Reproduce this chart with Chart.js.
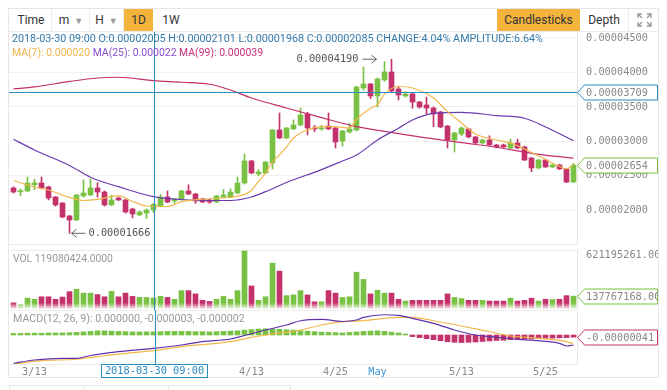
<!DOCTYPE html>
<html>
<head>
<meta charset="utf-8">
<title>Daily candles</title>
<script src="https://cdn.jsdelivr.net/npm/chart.js@4.4.1/dist/chart.umd.min.js"></script>
<style>
  body { margin: 0; background: #fff; }
  #wrap { position: relative; width: 667px; height: 390px; overflow: hidden; font-family: Roboto, "Liberation Sans", sans-serif; }
  canvas { position: absolute; left: 9px; }
  .box { position: absolute; border: 1px solid #e6e6e6; box-sizing: border-box; }
  .hl { position: absolute; height: 1px; background: #ebebeb; }
  .vl { position: absolute; width: 1px; background: #ededed; }
  .tb { position: absolute; top: 9px; height: 22px; line-height: 22px; font-size: 12px; color: #333; text-align: center; }
  .on { background: #f3b33d; }
  .caret { color: #999; font-size: 9px; margin-left: 5px; }
  .txt { position: absolute; white-space: nowrap; font-size: 11px; line-height: 13px; }
</style>
</head>
<body>
<div id="wrap">
  <div class="box" style="left:8px;top:8px;width:651px;height:370px;"></div>
  <div class="hl" style="left:9px;top:31px;width:649px;"></div>

  <!-- toolbar -->
  <div class="tb" style="left:12px;width:38px;">Time</div>
  <div class="vl" style="left:51px;top:9px;height:22px;"></div>
  <div class="tb" style="left:54px;width:34px;">m<span class="caret">&#9660;</span></div>
  <div class="vl" style="left:89px;top:9px;height:22px;"></div>
  <div class="tb" style="left:90px;width:33px;">H<span class="caret">&#9660;</span></div>
  <div class="vl" style="left:123px;top:9px;height:22px;"></div>
  <div class="tb on" style="left:124px;width:29px;">1D</div>
  <div class="tb" style="left:156px;width:30px;">1W</div>
  <div class="tb on" style="left:497px;width:83px;">Candlesticks</div>
  <div class="tb" style="left:582px;width:44px;">Depth</div>
  <div class="vl" style="left:628px;top:9px;height:22px;"></div>
  <svg style="position:absolute;left:637px;top:13px" width="15" height="14" viewBox="0 0 15 14">
    <g stroke="#999" stroke-width="1.3" fill="none">
      <path d="M1 5V1h4M1 1l4 4"/><path d="M14 5V1h-4M14 1l-4 4"/>
      <path d="M1 9v4h4M1 13l4-4"/><path d="M14 9v4h-4M14 13l-4-4"/>
    </g>
  </svg>

  <!-- panel frames -->
  <div class="hl" style="left:9px;top:244px;width:568px;"></div>
  <div class="hl" style="left:9px;top:250px;width:568px;"></div>
  <div class="hl" style="left:9px;top:310px;width:568px;"></div>
  <div class="hl" style="left:9px;top:364px;width:568px;"></div>

  <canvas id="price" width="649" height="218" style="top:31px"></canvas>
  <canvas id="vol" width="649" height="61" style="top:249px"></canvas>
  <canvas id="macd" width="649" height="68" style="top:310px"></canvas>

  <div class="txt fit" data-w="531" id="info" style="left:12px;top:32px;color:#3479a8;"></div>
  <div class="txt fit" data-w="251" id="maTxt" style="left:12px;top:46px;">
    <span style="color:#f0b44b">MA(7): 0.000020</span> <span style="color:#8a4fd0">MA(25): 0.000022</span> <span style="color:#c9307a">MA(99): 0.000039</span>
  </div>
  <div class="txt fit" data-w="100" id="volTxt" style="left:13px;top:252px;color:#999;"></div>
  <div class="txt fit" data-w="232" style="left:13px;top:312px;color:#999;">MACD(12, 26, 9): 0.000000, -0.000003, -0.000002</div>

  <!-- tab strip below -->
  <div class="box" style="left:9px;top:385px;width:282px;height:12px;"></div>
  <div class="vl" style="left:83px;top:385px;height:6px;"></div>
  <div class="vl" style="left:168px;top:385px;height:6px;"></div>
</div>

<script>
// prices are in units of 0.00000001
const U = 1e-8;

const opens  = [2323,2270,2280,2370,2396,2338,2193,2106,1917,1859, 2207,2222,2323,2265,2077,2178,2149,2019,1932,1961,
                2005,2062,2193,2135,2164,2280,2236,2164,2149,2120, 2193,2193,2251,2396,2715,2526,2541,2686,3164,3048,
                3179,3237,3396,3193,3179,3222,3193,3005,3135,3164, 3773,3831,3657,3890,4005,3759,3657,3686,3570,3527,
                3483,3425,3222,3019,3106,3179,3063,2976,3019,2947, 2947,2903,2976,2918,2758,2613,2729,2628,2657,2599,
                2410];
const highs  = [2340,2310,2483,2450,2483,2350,2200,2110,1925,2230, 2440,2454,2400,2280,2220,2190,2160,2030,1990,2020,
                2101,2230,2280,2170,2290,2370,2245,2175,2160,2215, 2300,2310,2483,2816,2725,2590,2710,3170,3411,3200,
                3310,3483,3420,3230,3230,3411,3200,3160,3260,3800, 4078,3840,3920,4155,4190,3800,3720,3700,3580,3640,
                3500,3435,3230,3130,3210,3190,3070,3035,3080,2955, 2960,3030,3030,2930,2765,2740,2740,2665,2665,2610,
                2680];
const lows   = [2250,2210,2270,2300,2310,2150,2060,1890,1666,1850, 2190,2210,2190,2060,2070,2140,1960,1890,1920,1880,
                1968,2050,2110,2100,2150,2225,2100,2110,2100,2110, 2185,2185,2240,2380,2530,2500,2530,2600,3040,3035,
                3170,3225,3092,3140,3160,3170,2903,2930,3120,3150, 3740,3620,3500,3870,3720,3600,3640,3480,3480,3400,
                3212,3195,2903,2845,3080,3050,2960,2960,2940,2905, 2910,2895,2895,2720,2560,2600,2620,2620,2590,2400,
                2400];
const closes = [2265,2285,2396,2396,2323,2178,2077,1903,1859,2222, 2251,2323,2265,2077,2149,2149,1975,1946,1975,2004,
                2085,2193,2120,2164,2280,2236,2135,2120,2120,2207, 2222,2265,2396,2715,2541,2555,2700,3164,3048,3193,
                3237,3382,3193,3179,3193,3179,2990,3150,3179,3788, 3831,3657,3904,4005,3730,3672,3686,3570,3498,3483,
                3396,3208,3019,3121,3193,3063,2976,3019,2947,2918, 2918,2976,2903,2729,2613,2729,2628,2657,2599,2410,
                2654];

const volumes = [66e6,46e6,116e6,104e6,131e6,131e6,104e6,128e6,186e6,212e6,
                 170e6,170e6,155e6,131e6,189e6,131e6,170e6,135e6,124e6,124e6,
                 119080424,135e6,124e6,104e6,197e6,197e6,162e6,93e6,81e6,104e6,
                 135e6,104e6,197e6,621195261,247e6,93e6,131e6,491e6,406e6,143e6,
                 151e6,197e6,151e6,77e6,77e6,197e6,170e6,124e6,131e6,394e6,
                 317e6,162e6,201e6,170e6,170e6,104e6,85e6,93e6,93e6,93e6,
                 93e6,93e6,162e6,124e6,112e6,93e6,93e6,93e6,85e6,85e6,
                 85e6,116e6,85e6,93e6,116e6,85e6,104e6,101e6,104e6,143e6,
                 137767168];

// moving averages: [day index, value]
const ma7Pts  = [[0,2432],[3,2338],[5,2294],[8,2186],[10,2142],[12,2157],[15,2212],[17,2128],[19,2062],[22,2055],
                 [24,2125],[27,2160],[31,2189],[33,2230],[34,2290],[35,2420],[36,2540],[37,2700],[38,2802],[39,2918],
                 [40,3048],[41,3121],[42,3164],[44,3212],[46,3212],[48,3190],[49,3320],[51,3480],[52,3530],[53,3685],
                 [55,3795],[57,3773],[60,3628],[62,3430],[64,3266],[66,3106],[69,3019],[71,2976],[73,2889],[76,2737],
                 [78,2635],[79,2599],[80,2657]];
const ma25Pts = [[0,3030],[3,2874],[8,2650],[11,2479],[15,2342],[20,2197],[25,2149],[31,2142],[34,2193],[36,2270],
                 [39,2402],[44,2590],[47,2715],[49,2800],[52,3019],[55,3190],[57,3310],[60,3405],[64,3421],[69,3372],
                 [73,3334],[76,3208],[80,3009]];
const ma99Pts = [[0,3759],[3,3788],[8,3868],[12,3918],[15,3929],[20,3879],[24,3856],[28,3827],[31,3744],[34,3628],
                 [39,3483],[44,3343],[49,3212],[53,3143],[58,3063],[62,3009],[64,2980],[69,2914],[74,2826],[80,2754]];

// MACD lines and histogram (same units)
const difPts = [[0,-544],[3,-481],[7,-448],[9,-448],[11,-394],[15,-321],[20,-256],[24,-192],[27,-129],[31,-77],
                [33,-10],[36,96],[39,192],[41,275],[44,302],[47,260],[49,288],[50,340],[53,390],[55,379],
                [57,321],[60,225],[63,96],[66,0],[69,-44],[72,-83],[75,-110],[78,-160],[79,-212],[80,-192]];
const deaPts = [[0,-558],[4,-494],[9,-467],[12,-417],[17,-340],[20,-302],[24,-225],[31,-129],[34,-44],[37,19],
                [41,96],[44,192],[47,256],[50,275],[55,340],[57,340],[60,275],[64,173],[68,63],[71,-19],
                [75,-63],[79,-129],[80,-173]];
const macdHist = [30,30,35,35,35,40,40,40,45,50, 60,70,80,80,75,70,65,60,60,60,
                  60,65,70,70,70,70,65,65,60,65, 70,75,80,95,105,115,120,115,110,100,
                  95,85,75,65,55,50,45,40,50,60, 70,75,80,70,55,40,20,-30,-50,-70,
                  -90,-110,-130,-140,-145,-140,-135,-125,-115,-105, -100,-90,-85,-80,-75,-70,-65,-60,-55,-50,
                  -41];

const tickDays  = ['3/13','4/13','4/25','5/1','5/13','5/25'];
const tickTexts = ['3/13','4/13','4/25','May','5/13','5/25'];
const crossIndex = 20;
const crossPrice = 3709;
const crossDate = '2018-03-30 09:00';

// day labels 3/10 .. 5/29
const dates = [];
for (let i = 0; i < opens.length; i++) {
  const d = new Date(Date.UTC(2018, 2, 10 + i));
  dates.push((d.getUTCMonth() + 1) + '/' + d.getUTCDate());
}

const GREEN = '#79c143', RED = '#c4326c', BLUE = '#2b8cbf';
const MONO_CSS = '10.3px "DejaVu Sans Mono"';
const MONO = { family: 'DejaVu Sans Mono', size: 10.3 };
const N = opens.length;
const up = closes.map((c, i) => c >= opens[i]);
const colors = up.map(u => u ? GREEN : RED);

function fromPoints(pts) {
  const a = new Array(N).fill(null);
  pts.forEach(([i, v]) => { a[i] = v * U; });
  return a;
}
const fmt = v => v.toFixed(8);

// header texts
document.getElementById('info').textContent =
  crossDate + '  O:' + fmt(opens[crossIndex] * U) + ' H:' + fmt(highs[crossIndex] * U) +
  ' L:' + fmt(lows[crossIndex] * U) + ' C:' + fmt(closes[crossIndex] * U) + ' CHANGE:4.04% AMPLITUDE:6.64%';
document.getElementById('volTxt').textContent = 'VOL ' + volumes[crossIndex].toFixed(4);
document.querySelectorAll('.fit').forEach(el => {
  const w = el.getBoundingClientRect().width;
  el.style.fontSize = (11 * Number(el.dataset.w) / w).toFixed(2) + 'px';
});

function drawTag(ctx, x, y, text, color) {
  ctx.save();
  ctx.beginPath();
  ctx.moveTo(x + 0.5, y);
  ctx.lineTo(x + 7.5, y - 7.5);
  ctx.lineTo(x + 80.5, y - 7.5);
  ctx.lineTo(x + 80.5, y + 7.5);
  ctx.lineTo(x + 7.5, y + 7.5);
  ctx.closePath();
  ctx.fillStyle = '#fff';
  ctx.fill();
  ctx.strokeStyle = color;
  ctx.lineWidth = 1;
  ctx.stroke();
  ctx.fillStyle = '#888';
  ctx.font = MONO_CSS;
  ctx.textBaseline = 'middle';
  ctx.fillText(text, x + 9, y + 0.5);
  ctx.restore();
}

function vLine(ctx, x, y0, y1) {
  ctx.save();
  ctx.strokeStyle = BLUE;
  ctx.lineWidth = 1;
  ctx.beginPath();
  ctx.moveTo(Math.round(x) + 0.5, y0);
  ctx.lineTo(Math.round(x) + 0.5, y1);
  ctx.stroke();
  ctx.restore();
}

const base = {
  responsive: false,
  animation: false,
  devicePixelRatio: 1,
  events: [],
  plugins: { legend: { display: false }, tooltip: { enabled: false } }
};

const rightAxis = extra => Object.assign({
  position: 'right',
  grid: { display: false, drawTicks: false },
  border: { color: '#e6e6e6' },
  afterFit: s => { s.width = 81; s.paddingTop = 0; s.paddingBottom = 0; }
}, extra);

const hiddenX = { display: false, offset: true, grid: { display: false } };

// ---- price panel ----
const priceMarks = {
  id: 'priceMarks',
  afterDraw(chart) {
    const { ctx, chartArea, scales: { x, y } } = chart;
    // horizontal crosshair + tag
    const cy = Math.round(y.getPixelForValue(crossPrice * U)) + 0.5;
    ctx.save();
    ctx.strokeStyle = BLUE;
    ctx.beginPath();
    ctx.moveTo(0, cy);
    ctx.lineTo(chartArea.right, cy);
    ctx.stroke();
    ctx.restore();
    drawTag(ctx, chartArea.right, cy, fmt(crossPrice * U), BLUE);
    // last close tag
    drawTag(ctx, chartArea.right, Math.round(y.getPixelForValue(closes[N - 1] * U)) + 0.5, fmt(closes[N - 1] * U), GREEN);
    // vertical crosshair
    vLine(ctx, x.getPixelForValue(crossIndex), chartArea.top, chart.height);

    // highest high / lowest low
    const hi = highs.indexOf(Math.max(...highs));
    const lo = lows.indexOf(Math.min(...lows));
    ctx.save();
    ctx.font = MONO_CSS;
    ctx.fillStyle = '#555';
    ctx.strokeStyle = '#666';
    ctx.textBaseline = 'middle';
    let px = x.getPixelForValue(hi), py = y.getPixelForValue(highs[hi] * U);
    ctx.textAlign = 'right';
    ctx.fillText(fmt(highs[hi] * U), px - 33, py);
    ctx.beginPath();
    ctx.moveTo(px - 29, py); ctx.lineTo(px - 15, py);
    ctx.moveTo(px - 20, py - 4); ctx.lineTo(px - 15, py); ctx.lineTo(px - 20, py + 4);
    ctx.stroke();
    px = x.getPixelForValue(lo); py = y.getPixelForValue(lows[lo] * U);
    ctx.textAlign = 'left';
    ctx.fillText(fmt(lows[lo] * U), px + 19, py);
    ctx.beginPath();
    ctx.moveTo(px + 2, py); ctx.lineTo(px + 16, py);
    ctx.moveTo(px + 7, py - 4); ctx.lineTo(px + 2, py); ctx.lineTo(px + 7, py + 4);
    ctx.stroke();
    ctx.restore();
  }
};

new Chart(document.getElementById('price'), {
  type: 'bar',
  data: {
    labels: dates,
    datasets: [
      { type: 'line', data: fromPoints(ma7Pts), borderColor: '#f2b74a', borderWidth: 1.2, pointRadius: 0, spanGaps: true, cubicInterpolationMode: 'monotone', order: 1 },
      { type: 'line', data: fromPoints(ma25Pts), borderColor: '#6a3cb0', borderWidth: 1.2, pointRadius: 0, spanGaps: true, cubicInterpolationMode: 'monotone', order: 1 },
      { type: 'line', data: fromPoints(ma99Pts), borderColor: '#c4306f', borderWidth: 1.2, pointRadius: 0, spanGaps: true, cubicInterpolationMode: 'monotone', order: 1 },
      { data: highs.map((h, i) => [lows[i] * U, h * U]), backgroundColor: colors, barThickness: 1, grouped: false, order: 3 },
      { data: opens.map((o, i) => [o * U, closes[i] * U]), backgroundColor: colors, barThickness: 5, minBarLength: 1, grouped: false, order: 2 }
    ]
  },
  options: Object.assign({}, base, {
    layout: { padding: { left: 1, top: 1, bottom: 5, right: 0 } },
    scales: {
      x: hiddenX,
      y: rightAxis({
        min: 1511 * U,
        max: 4585 * U,
        grid: { color: '#f0f0f0', drawTicks: false },
        ticks: { stepSize: 500 * U, includeBounds: false, padding: 9, color: '#8a8a8a', font: MONO, callback: v => fmt(v) }
      })
    }
  }),
  plugins: [priceMarks]
});

// ---- volume panel ----
const volMarks = {
  id: 'volMarks',
  afterDatasetsDraw(chart) {
    const { ctx, chartArea } = chart;
    const g = ctx.createLinearGradient(0, chartArea.bottom - 6, 0, chartArea.bottom);
    g.addColorStop(0, 'rgba(255,255,255,0)');
    g.addColorStop(1, 'rgba(255,255,255,0.95)');
    ctx.fillStyle = g;
    ctx.fillRect(chartArea.left, chartArea.bottom - 6, chartArea.right - chartArea.left, 6);
  },
  afterDraw(chart) {
    const { ctx, chartArea, scales: { x, y } } = chart;
    vLine(ctx, x.getPixelForValue(crossIndex), 0, chart.height);
    drawTag(ctx, chartArea.right, Math.round(y.getPixelForValue(volumes[N - 1])) + 0.5, volumes[N - 1].toFixed(2), GREEN);
  }
};

new Chart(document.getElementById('vol'), {
  type: 'bar',
  data: {
    labels: dates,
    datasets: [{ data: volumes, backgroundColor: colors, barThickness: 5 }]
  },
  options: Object.assign({}, base, {
    layout: { padding: { left: 1, top: 1, bottom: 1, right: 0 } },
    scales: {
      x: hiddenX,
      y: rightAxis({
        min: 0,
        max: 632e6,
        afterBuildTicks: s => { s.ticks = [{ value: Math.max(...volumes) }]; },
        ticks: { padding: 9, labelOffset: 4, color: '#8a8a8a', font: MONO, callback: v => v.toFixed(2) }
      })
    }
  }),
  plugins: [volMarks]
});

// ---- MACD panel ----
const macdMarks = {
  id: 'macdMarks',
  afterDraw(chart) {
    const { ctx, chartArea, scales: { x, y } } = chart;
    const cx = Math.round(x.getPixelForValue(crossIndex)) + 0.5;
    vLine(ctx, cx, 0, chartArea.bottom);
    drawTag(ctx, chartArea.right, Math.round(y.getPixelForValue(macdHist[N - 1] * U)) + 0.5, fmt(macdHist[N - 1] * U), RED);
    // date tag under the crosshair
    ctx.save();
    ctx.fillStyle = '#fff';
    ctx.fillRect(cx - 53, chartArea.bottom, 106, 13);
    ctx.strokeStyle = BLUE;
    ctx.strokeRect(cx - 53, chartArea.bottom + 0.5, 106, 13);
    ctx.fillStyle = BLUE;
    ctx.font = MONO_CSS;
    ctx.textAlign = 'center';
    ctx.textBaseline = 'middle';
    ctx.fillText(crossDate, cx, chartArea.bottom + 7.5);
    ctx.restore();
  }
};

new Chart(document.getElementById('macd'), {
  type: 'bar',
  data: {
    labels: dates,
    datasets: [
      { type: 'line', data: fromPoints(difPts), borderColor: '#5f33aa', borderWidth: 1.2, pointRadius: 0, spanGaps: true, cubicInterpolationMode: 'monotone', order: 1 },
      { type: 'line', data: fromPoints(deaPts), borderColor: '#f2b74a', borderWidth: 1.2, pointRadius: 0, spanGaps: true, cubicInterpolationMode: 'monotone', order: 1 },
      { data: macdHist.map(v => v * U), backgroundColor: macdHist.map(v => v >= 0 ? GREEN : RED), barThickness: 5, order: 2 }
    ]
  },
  options: Object.assign({}, base, {
    layout: { padding: { left: 1, top: 1, bottom: 0, right: 0 } },
    scales: {
      x: {
        offset: true,
        grid: { display: false, drawTicks: false },
        border: { display: false },
        ticks: {
          autoSkip: false,
          maxRotation: 0,
          padding: 2,
          font: MONO,
          color: c => tickTexts[tickDays.indexOf(dates[c.index])] === 'May' ? '#3f95d6' : '#8a8a8a',
          callback: (v, i) => { const k = tickDays.indexOf(dates[i]); return k >= 0 ? tickTexts[k] : ''; }
        },
        afterFit: s => { s.height = 14; s.paddingLeft = 0; s.paddingRight = 0; }
      },
      y: rightAxis({
        min: -558 * U,
        max: 462 * U,
        ticks: { display: false }
      })
    }
  }),
  plugins: [macdMarks]
});
</script>
</body>
</html>
